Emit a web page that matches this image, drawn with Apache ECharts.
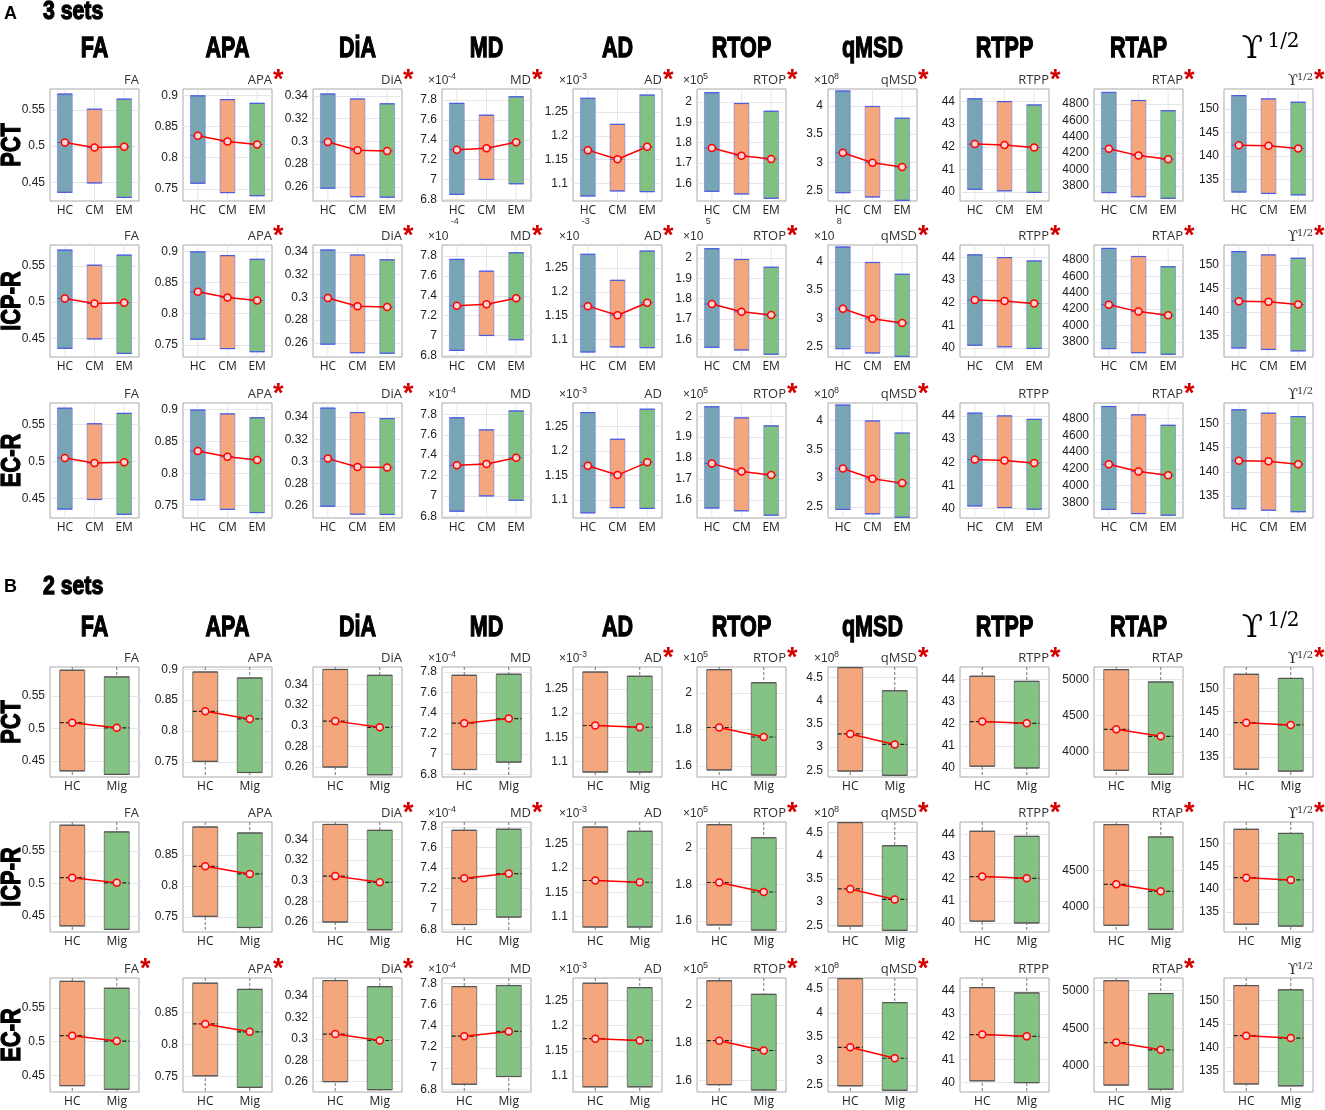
<!DOCTYPE html>
<html>
<head>
<meta charset="utf-8">
<script src="https://cdn.jsdelivr.net/npm/echarts@6/dist/echarts.min.js"></script>
<style>
  html, body { margin: 0; padding: 0; background: #fff; }
  #chart { width: 1325px; height: 1110px; }
</style>
</head>
<body>
<div id="chart"></div>
<script>
// ---- data ----
const metrics = ['FA', 'APA', 'DiA', 'MD', 'AD', 'RTOP', 'qMSD', 'RTPP', 'RTAP', 'Y']
const exponents = ['', '', '', '-4', '-3', '5', '8', '', '', '']
const rowNames = ['PCT', 'ICP-R', 'EC-R']
const groupsA = ['HC', 'CM', 'EM']
const groupsB = ['HC', 'Mig']

// A: 3 sets, per metric [HC, CM, EM]  (PCT and ICP-R rows)
const lowA  = [[0.436, 0.449, 0.429], [0.759, 0.744, 0.739], [0.2588, 0.2513, 0.2508], [6.85, 7.0, 6.957], [1.074, 1.0846, 1.0831],
               [1.562, 1.549, 1.528], [2.457, 2.38, 2.32], [40.12, 40.05, 39.98], [3717, 3667, 3647], [132.4, 132.1, 131.8]]
const highA = [[0.572, 0.551, 0.565], [0.899, 0.893, 0.887], [0.3416, 0.3372, 0.333], [7.767, 7.648, 7.834], [1.2785, 1.224, 1.2853],
               [2.045, 1.992, 1.954], [4.27, 3.994, 3.784], [44.12, 44.0, 43.85], [4944, 4845, 4720], [152.8, 152.1, 151.4]]
const meanA = [[0.505, 0.498, 0.499], [0.835, 0.826, 0.821], [0.2994, 0.2921, 0.2915], [7.30, 7.314, 7.375], [1.170, 1.151, 1.177],
               [1.774, 1.736, 1.72], [3.168, 2.99, 2.914], [42.12, 42.08, 41.97], [4255, 4170, 4125], [142.3, 142.2, 141.6]]
const rangeA = [[0.424, 0.579], [0.7305, 0.910], [0.2475, 0.346], [6.783, 7.912], [1.0635, 1.298],
                [1.5146, 2.063], [2.308, 4.306], [39.6, 44.556], [3614, 4986], [130.5, 154.2]]
// A: EC-R row
const lowA3  = [[0.436, 0.449, 0.429], [0.759, 0.744, 0.739], [0.2598, 0.2526, 0.2524], [6.85, 7.0, 6.957], [1.074, 1.0846, 1.0831],
                [1.562, 1.549, 1.528], [2.457, 2.38, 2.32], [40.12, 40.05, 39.98], [3717, 3667, 3647], [132.4, 132.1, 131.8]]
const highA3 = [[0.572, 0.551, 0.565], [0.899, 0.893, 0.887], [0.348, 0.344, 0.3386], [7.767, 7.648, 7.834], [1.2785, 1.224, 1.2853],
                [2.045, 1.992, 1.954], [4.27, 3.994, 3.784], [44.12, 44.0, 43.85], [4944, 4845, 4720], [152.8, 152.1, 151.4]]
const meanA3 = [[0.505, 0.498, 0.499], [0.835, 0.826, 0.821], [0.3026, 0.295, 0.2945], [7.30, 7.314, 7.375], [1.170, 1.151, 1.177],
                [1.774, 1.736, 1.72], [3.168, 2.99, 2.914], [42.12, 42.08, 41.97], [4255, 4170, 4125], [142.3, 142.2, 141.6]]
const rangeA3 = [[0.424, 0.579], [0.7305, 0.910], [0.2492, 0.3526], [6.783, 7.912], [1.0635, 1.298],
                 [1.5146, 2.063], [2.308, 4.306], [39.6, 44.556], [3614, 4986], [130.5, 154.2]]
const ticksA = [[0.45, 0.5, 0.55], [0.75, 0.8, 0.85, 0.9], [0.26, 0.28, 0.3, 0.32, 0.34], [6.8, 7, 7.2, 7.4, 7.6, 7.8], [1.1, 1.15, 1.2, 1.25],
                [1.6, 1.7, 1.8, 1.9, 2], [2.5, 3, 3.5, 4], [40, 41, 42, 43, 44], [3800, 4000, 4200, 4400, 4600, 4800], [135, 140, 145, 150]]

// B: 2 sets, per metric [HC, Mig]
const lowB  = [[0.4345, 0.429], [0.751, 0.733], [0.26, 0.2525], [6.847, 6.92], [1.0786, 1.0786],
               [1.578, 1.550], [2.485, 2.392], [40.08, 40.0], [3748, 3693], [132.3, 131.9]]
const highB = [[0.590, 0.5797], [0.8956, 0.8859], [0.3546, 0.3489], [7.768, 7.778], [1.2844, 1.2757],
               [2.129, 2.057], [4.715, 4.216], [44.15, 43.92], [5133, 4963], [153.1, 152.2]]
const meanB = [[0.509, 0.501], [0.832, 0.8196], [0.3045, 0.2985], [7.30, 7.345], [1.1743, 1.1707],
               [1.811, 1.759], [3.285, 3.058], [42.1, 42.02], [4312, 4216], [142.5, 142.0]]
const rangeB = [[0.425, 0.595], [0.7257, 0.9037], [0.2503, 0.357], [6.774, 7.849], [1.0683, 1.2948],
                [1.539, 2.1437], [2.356, 4.728], [39.59, 44.57], [3656, 5169], [130.6, 154.7]]
const ticksB = [[0.45, 0.5, 0.55], [0.75, 0.8, 0.85, 0.9], [0.26, 0.28, 0.3, 0.32, 0.34], [6.8, 7, 7.2, 7.4, 7.6, 7.8], [1.1, 1.15, 1.2, 1.25],
                [1.6, 1.8, 2], [2.5, 3, 3.5, 4, 4.5], [40, 41, 42, 43, 44], [4000, 4500, 5000], [135, 140, 145, 150]]
const ticksBApaR = [0.75, 0.8, 0.85]
const ticksBRtapICP = [4000, 4500]

// significance stars per row / metric
const starsA = [[0, 1, 1, 1, 1, 1, 1, 1, 1, 1], [0, 1, 1, 1, 1, 1, 1, 1, 1, 1], [0, 1, 1, 0, 0, 1, 1, 0, 1, 0]]
const starsB = [[0, 0, 0, 0, 1, 1, 1, 1, 0, 1], [0, 0, 1, 1, 0, 1, 1, 1, 1, 1], [1, 1, 1, 0, 0, 1, 1, 0, 1, 0]]

// ---- layout ----
const boxLeft = [50, 183, 313, 442, 573, 697, 828, 960, 1094, 1224]
const boxW = 89
const rowTopA = [89, 245, 403], rowBotA = [201, 357, 518]
const rowTopB = [667, 822, 978], rowBotB = [777, 932, 1092]
const colorsA = ['#78a5b3', '#f4a77c', '#80c080']
const colorsB = ['#f4a77c', '#84c384']

// no condensed face installed, so squeeze a bold face horizontally
const BOLD = 'bold {s}px "Liberation Sans", Arial, sans-serif'
const HEAVY = { fill: '#000', stroke: '#000', lineWidth: 1.3 }
const grids = [], xAxes = [], yAxes = [], series = [], graphics = []

function txt(x, y, text, font, extra, scaleX, rotation) {
  graphics.push({
    type: 'text', x: x, y: y, silent: true,
    scaleX: scaleX || 1, rotation: rotation || 0,
    style: Object.assign({ text: text, font: font, fill: '#222', align: 'left', verticalAlign: 'middle' }, extra || {})
  })
}
const bold = s => BOLD.replace('{s}', s)

function addPanel(p) {
  const idx = grids.length
  grids.push({
    left: p.left, top: p.top, width: boxW, height: p.bottom - p.top,
    show: true, borderColor: '#a8a8a8', borderWidth: 1, backgroundColor: '#fff'
  })
  xAxes.push({
    gridIndex: idx, type: 'category', data: p.groups, boundaryGap: true,
    axisLine: { show: false }, axisTick: { show: false }, splitLine: { show: false },
    axisLabel: { margin: 4, fontSize: 12, color: '#222', fontFamily: 'Open Sans' }
  })
  yAxes.push({
    gridIndex: idx, type: 'value', min: p.min, max: p.max,
    axisLine: { show: false },
    axisTick: { show: false, customValues: p.ticks },
    axisLabel: { customValues: p.ticks, margin: 5, fontSize: 12, color: '#222', fontFamily: 'Liberation Sans', formatter: v => String(v) },
    splitLine: { show: true, lineStyle: { color: '#e6e6e6', width: 1 } }
  })
  const secA = p.groups.length === 3
  series.push({
    type: 'custom', xAxisIndex: idx, yAxisIndex: idx, silent: true, animation: false,
    data: p.groups.map((g, i) => [i, p.lo[i], p.hi[i], p.mu[i]]),
    encode: { x: 0, y: [1, 2, 3] },
    renderItem: (params, api) => {
      const i = api.value(0)
      const top = api.coord([i, api.value(2)])
      const bot = api.coord([i, api.value(1)])
      const mid = api.coord([i, api.value(3)])
      const band = api.size([1, 0])[0]
      const w = band * (secA ? 0.5 : 0.56)
      const cs = params.coordSys
      const x0 = top[0] - w / 2
      return {
        type: 'group',
        children: [
          { type: 'line', shape: { x1: top[0], y1: cs.y, x2: top[0], y2: cs.y + cs.height },
            style: secA ? { stroke: '#e6e6e6', lineWidth: 1 } : { stroke: '#777', lineWidth: 1, lineDash: [3, 2] } },
          { type: 'rect', shape: { x: x0, y: top[1], width: w, height: bot[1] - top[1] },
            style: { fill: p.colors[i], stroke: secA ? 'rgba(110,120,235,0.6)' : '#777', lineWidth: 1 } },
          { type: 'line', shape: { x1: x0, y1: top[1], x2: x0 + w, y2: top[1] },
            style: { stroke: secA ? '#4b5be0' : '#555', lineWidth: 1.2 } },
          { type: 'line', shape: { x1: x0, y1: bot[1], x2: x0 + w, y2: bot[1] },
            style: { stroke: secA ? '#4b5be0' : '#555', lineWidth: 1.2 } },
          { type: 'line', shape: { x1: x0, y1: mid[1], x2: x0 + w, y2: mid[1] },
            style: secA ? { stroke: '#4b5be0', lineWidth: 1, lineDash: [3, 2] } : { stroke: '#222', lineWidth: 1.2, lineDash: [4, 2] } }
        ]
      }
    },
    z: 2
  })
  series.push({
    type: 'line', xAxisIndex: idx, yAxisIndex: idx, data: p.mu, silent: true, animation: false,
    symbol: 'circle', symbolSize: 7, z: 5,
    lineStyle: { color: '#ff0000', width: 1.5 },
    itemStyle: { color: '#ffd4d4', borderColor: '#ff0000', borderWidth: 1.5 }
  })

  // panel title and significance star
  const right = p.left + boxW
  if (p.metric === 'Y') {
    txt(right, p.top - 12, '1/2', '10px "DejaVu Serif"', { align: 'right', fill: '#333' })
    txt(right - 15, p.top - 8, '\u03D2', '15px "DejaVu Serif"', { align: 'right', fill: '#333' })
  } else {
    txt(right, p.top - 9, p.metric, '13px "Open Sans"', { align: 'right', fill: '#333' })
  }
  if (p.star) txt(right + 1, p.top - 8, '*', 'bold 27px "Liberation Sans"', { fill: '#d40000' })

  // exponent label
  if (p.exp) {
    txt(p.left - 14, p.top - 8, '\u00D710', '12px "Liberation Sans"', { fill: '#333' })
    if (!p.expMoved) txt(p.left + 6, p.top - 12, p.exp, '9px "Liberation Sans"', { fill: '#333' })
    else txt(p.left + boxW / 6 - 6, p.expMovedY, p.exp, '9px "Liberation Sans"', { fill: '#333' })
  }
}

for (let r = 0; r < 3; r++) {
  for (let m = 0; m < 10; m++) {
    const ec = r === 2
    addPanel({
      metric: metrics[m], groups: groupsA, colors: colorsA,
      left: boxLeft[m], top: rowTopA[r], bottom: rowBotA[r],
      lo: (ec ? lowA3 : lowA)[m], hi: (ec ? highA3 : highA)[m], mu: (ec ? meanA3 : meanA)[m],
      min: (ec ? rangeA3 : rangeA)[m][0], max: (ec ? rangeA3 : rangeA)[m][1],
      ticks: ticksA[m], star: starsA[r][m], exp: exponents[m],
      expMoved: r === 1, expMovedY: rowBotA[0] + 21
    })
  }
}
for (let r = 0; r < 3; r++) {
  for (let m = 0; m < 10; m++) {
    let ticks = ticksB[m]
    if (m === 1 && r > 0) ticks = ticksBApaR
    if (m === 8 && r === 1) ticks = ticksBRtapICP
    addPanel({
      metric: metrics[m], groups: groupsB, colors: colorsB,
      left: boxLeft[m], top: rowTopB[r], bottom: rowBotB[r],
      lo: lowB[m], hi: highB[m], mu: meanB[m],
      min: rangeB[m][0], max: rangeB[m][1],
      ticks: ticks, star: starsB[r][m], exp: exponents[m]
    })
  }
}

// section titles, column headers, row labels
txt(4, 14, 'A', bold(18), { fill: '#000' })
txt(43, 12, '3 sets', bold(25), HEAVY, 0.85)
txt(4, 587, 'B', bold(18), { fill: '#000' })
txt(43, 587, '2 sets', bold(25), HEAVY, 0.85)
;[49, 628].forEach(hy => {
  for (let m = 0; m < 10; m++) {
    const cx = boxLeft[m] + boxW / 2
    if (metrics[m] === 'Y') {
      txt(cx - 16, hy + 1, '\u03D2', '31px "DejaVu Serif"', { fill: '#000', align: 'center' })
      txt(cx + 15, hy - 7, '1/2', '20px "DejaVu Serif"', { fill: '#000', align: 'center' })
    } else {
      txt(cx, hy, metrics[m], bold(30), Object.assign({ align: 'center' }, HEAVY), 0.72)
    }
  }
})
rowNames.forEach((name, r) => {
  ;[[rowTopA, rowBotA], [rowTopB, rowBotB]].forEach(([tops, bots]) => {
    txt(12, (tops[r] + bots[r]) / 2, name, bold(28), Object.assign({ align: 'center' }, HEAVY), 0.78, Math.PI / 2)
  })
})

const chart = echarts.init(document.getElementById('chart'), null, { renderer: 'canvas' })
chart.setOption({
  animation: false,
  backgroundColor: '#fff',
  grid: grids,
  xAxis: xAxes,
  yAxis: yAxes,
  series: series,
  graphic: graphics
})
</script>
</body>
</html>
